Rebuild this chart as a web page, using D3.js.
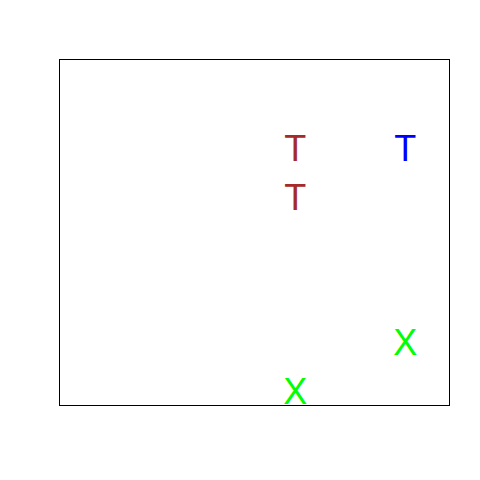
<!DOCTYPE html>
<html>
<head>
<meta charset="utf-8">
<script src="https://cdn.jsdelivr.net/npm/d3@7"></script>
<style>
  html, body { margin: 0; padding: 0; background: #fff; }
  svg { display: block; }
</style>
</head>
<body>
<svg id="chart" width="480" height="480"></svg>
<script>
// Data
const labels = ["T", "T", "T", "X", "X"];
const xValues = [2, 2, 3, 3, 2];
const yValues = [6, 5, 6, 2, 1];
const groups = ["a", "a", "b", "c", "c"];
const groupNames = ["a", "b", "c"];

(function () {
  const svg = d3.select("#chart");
  const mLeft = 59, mRight = 449, mTop = 59, mBottom = 406;

  const x = d3.scaleLinear().domain([-0.148, 3.397]).range([mLeft, mRight]);
  const y = d3.scaleLinear().domain([0.691, 7.831]).range([mBottom, mTop]);
  const color = d3.scaleOrdinal().domain(groupNames).range(["#A52A2A", "#0000FF", "#00FF00"]);

  svg.append("rect")
    .attr("x", mLeft + 0.5).attr("y", mTop + 0.5)
    .attr("width", mRight - mLeft).attr("height", mBottom - mTop - 1)
    .attr("fill", "none").attr("stroke", "#000").attr("stroke-width", 1);

  const pts = labels.map((l, i) => ({ label: l, x: xValues[i], y: yValues[i], g: groups[i] }));

  svg.selectAll("text.pt").data(pts).enter().append("text")
    .attr("class", "pt")
    .attr("x", d => x(d.x))
    .attr("y", d => y(d.y))
    .attr("dy", "0.36em")
    .attr("text-anchor", "middle")
    .attr("font-family", "'Liberation Sans', Arial, sans-serif")
    .attr("font-size", 36)
    .attr("fill", d => color(d.g))
    .text(d => d.label);
})();
</script>
</body>
</html>
